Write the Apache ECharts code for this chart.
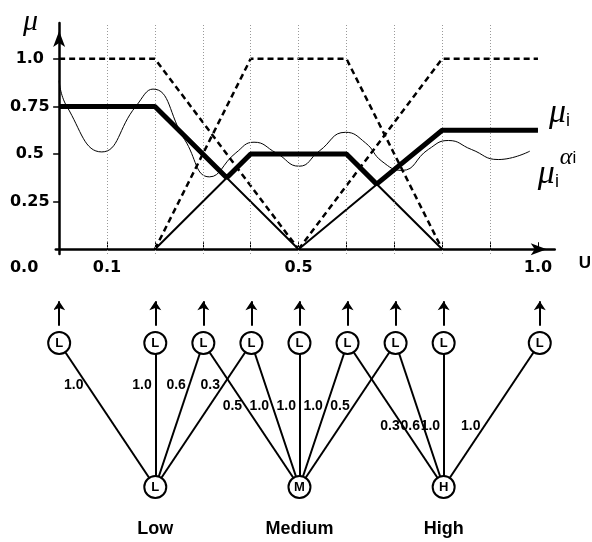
<!DOCTYPE html>
<html>
<head>
<meta charset="utf-8">
<script src="https://cdn.jsdelivr.net/npm/echarts@6/dist/echarts.min.js"></script>
<style>
html, body { margin: 0; padding: 0; background: #fff; }
#main { width: 592px; height: 542px; }
</style>
</head>
<body>
<div id="main"></div>
<script>
// axis marks
var uGridLines = [0.1, 0.2, 0.3, 0.4, 0.5, 0.6, 0.7, 0.8, 0.9];
var uTicks = [0.1, 0.2, 0.3, 0.4, 0.5, 0.6, 0.7, 0.8, 0.9, 1.0];
var uLabels = [0, 0.1, 0.5, 1.0];
var muLabels = [0.25, 0.5, 0.75, 1.0];

// fuzzy sets (dashed)
var lowSet = [[0, 1], [0.2, 1], [0.5, 0]];
var mediumSet = [[0.2, 0], [0.4, 1], [0.6, 1], [0.8, 0]];
var highSet = [[0.5, 0], [0.8, 1], [1.0, 1]];

// clipped sets (thin solid)
var lowCut = [[0, 0.75], [0.2, 0.75], [0.5, 0]];
var mediumCut = [[0.2, 0], [0.4, 0.5], [0.6, 0.5], [0.8, 0]];
var highCut = [[0.5, 0], [0.8, 0.625], [1.0, 0.625]];

// mu_i (thick)
var muI = [[0, 0.75], [0.2, 0.75], [0.35, 0.375], [0.4, 0.5], [0.6, 0.5], [0.663, 0.342], [0.8, 0.625], [1.0, 0.625]];

// mu_i^alpha_i (wavy)
var muAlpha = [[0, 0.885], [0.016, 0.75], [0.089, 0.511], [0.16, 0.75], [0.196, 0.841],
  [0.262, 0.576], [0.314, 0.38], [0.369, 0.506], [0.407, 0.562], [0.453, 0.506],
  [0.501, 0.436], [0.543, 0.515], [0.598, 0.614], [0.64, 0.558], [0.674, 0.462],
  [0.716, 0.414], [0.771, 0.524], [0.813, 0.571], [0.861, 0.524], [0.917, 0.471], [0.983, 0.515]];

// network
var topNodes = [0.0, 0.2, 0.3, 0.4, 0.5, 0.6, 0.7, 0.8, 1.0];
var termNames = ['Low', 'Medium', 'High'];
var termLetters = ['L', 'M', 'H'];
var termCenters = [0.2, 0.5, 0.8];
var edgeTerm = [0, 0, 0, 0, 1, 1, 1, 1, 1, 2, 2, 2, 2];
var edgeTop = [0.0, 0.2, 0.3, 0.4, 0.3, 0.4, 0.5, 0.6, 0.7, 0.6, 0.7, 0.8, 1.0];
var edgeWeight = [1.0, 1.0, 0.6, 0.3, 0.5, 1.0, 1.0, 1.0, 0.5, 0.3, 0.6, 1.0, 1.0];
var weightLevel = [0.71, 0.56, 0.42]; // where each term's weights sit along its edges

var axisFont = 'DejaVu Sans';
var textFont = 'Liberation Sans';

var edges = edgeTop.map(function (x, k) {
  return { coords: [[termCenters[edgeTerm[k]], 0], [x, 1]] };
});
var weightPoints = edgeTop.map(function (x, k) {
  var x0 = termCenters[edgeTerm[k]];
  var t = weightLevel[edgeTerm[k]];
  return { value: [x0 + (x - x0) * t, t], w: edgeWeight[k] };
});
var arrows = topNodes.map(function (x) {
  return { coords: [[x, 1.12], [x, 1.29]] };
});

var chart = echarts.init(document.getElementById('main'));

var thin = { color: '#000', width: 2 };
var dashed = { color: '#000', width: 2.5, type: [6, 4] };

chart.setOption({
  backgroundColor: '#fff',
  animation: false,
  grid: [
    { left: 55.8, right: 35.4, top: 23, bottom: 288 },
    { left: 55.8, right: 35.4, top: 285.4, height: 244.8 }
  ],
  xAxis: [{
    type: 'value', min: -0.007, max: 1.035,
    axisLine: { show: true, symbol: ['none', 'arrow'], symbolSize: [9, 16], symbolOffset: [0, -8],
      lineStyle: { color: '#000', width: 2.5 } },
    axisTick: { show: true, inside: true, length: 7, customValues: uTicks, lineStyle: { color: '#000', width: 1 } },
    axisLabel: {
      customValues: uLabels, margin: 6, color: '#000',
      fontFamily: axisFont, fontWeight: 'bold', fontSize: 16,
      formatter: function (v) {
        if (v === 0) return '{z|0.0}';
        return v === 1 ? '1.0' : String(v);
      },
      rich: { z: { padding: [0, 70, 0, 0], fontFamily: axisFont, fontWeight: 'bold', fontSize: 16, color: '#000' } }
    },
    splitLine: { show: false },
    name: 'U', nameLocation: 'end', nameGap: 24,
    nameTextStyle: { fontFamily: textFont, fontWeight: 'bold', fontSize: 17, color: '#000', verticalAlign: 'top', padding: [6, 0, 0, 0] }
  }, {
    type: 'value', gridIndex: 1, min: -0.007, max: 1.035, show: false
  }],
  yAxis: [{
    type: 'value', min: -0.025, max: 1.188,
    axisLine: { show: true, symbol: ['none', 'arrow'], symbolSize: [9, 16], symbolOffset: [0, -8],
      lineStyle: { color: '#000', width: 2.5 } },
    axisTick: { show: true, length: 6, customValues: muLabels, lineStyle: { color: '#000', width: 1.5 } },
    axisLabel: {
      customValues: muLabels, margin: 26, align: 'center', color: '#000',
      fontFamily: axisFont, fontWeight: 'bold', fontSize: 16,
      formatter: function (v) { return v === 1 ? '1.0' : String(v); }
    },
    splitLine: { show: false },
    name: 'μ', nameLocation: 'end', nameGap: -14,
    nameTextStyle: { fontFamily: 'Liberation Serif', fontStyle: 'italic', fontSize: 30, color: '#000',
      align: 'right', verticalAlign: 'bottom', padding: [0, 21, 0, 0] }
  }, {
    type: 'value', gridIndex: 1, min: -0.3, max: 1.4, show: false
  }],
  series: [
    {
      type: 'line', data: lowSet, symbol: 'none', lineStyle: dashed, z: 2,
      markLine: {
        silent: true, symbol: ['none', 'none'], label: { show: false },
        lineStyle: { color: '#999', width: 1, type: [1, 2] },
        data: uGridLines.map(function (v) { return { xAxis: v }; })
      }
    },
    { type: 'line', data: mediumSet, symbol: 'none', lineStyle: dashed, z: 2 },
    { type: 'line', data: highSet, symbol: 'none', lineStyle: dashed, z: 2 },
    { type: 'line', data: lowCut, symbol: 'none', lineStyle: thin, z: 3 },
    { type: 'line', data: mediumCut, symbol: 'none', lineStyle: thin, z: 3 },
    { type: 'line', data: highCut, symbol: 'none', lineStyle: thin, z: 3 },
    {
      type: 'line', data: muAlpha, symbol: 'none', smooth: true,
      lineStyle: { color: '#000', width: 1 }, z: 4,
      endLabel: {
        show: true, offset: [0, 22],
        formatter: '{p|}{a|α}{t|i}\n{m|μ}{s|i}',
        rich: {
          p: { width: 22, height: 6, lineHeight: 6 },
          a: { fontFamily: 'Liberation Serif', fontStyle: 'italic', fontSize: 24, color: '#000', verticalAlign: 'middle', lineHeight: 6 },
          t: { fontFamily: textFont, fontSize: 17, color: '#000', verticalAlign: 'middle', lineHeight: 6 },
          m: { fontFamily: 'Liberation Serif', fontStyle: 'italic', fontSize: 34, color: '#000', verticalAlign: 'bottom', lineHeight: 30 },
          s: { fontFamily: textFont, fontSize: 18, color: '#000', verticalAlign: 'bottom', lineHeight: 30 }
        }
      }
    },
    {
      type: 'line', data: muI, symbol: 'none',
      lineStyle: { color: '#000', width: 5 }, z: 5,
      endLabel: {
        show: true, offset: [3, -17],
        formatter: '{m|μ}{s|i}',
        rich: {
          m: { fontFamily: 'Liberation Serif', fontStyle: 'italic', fontSize: 34, color: '#000', verticalAlign: 'bottom' },
          s: { fontFamily: textFont, fontSize: 18, color: '#000', verticalAlign: 'bottom' }
        }
      }
    },
    // network
    {
      type: 'lines', coordinateSystem: 'cartesian2d', xAxisIndex: 1, yAxisIndex: 1,
      data: edges, lineStyle: { color: '#000', width: 2, opacity: 1 }, z: 2
    },
    {
      type: 'lines', coordinateSystem: 'cartesian2d', xAxisIndex: 1, yAxisIndex: 1,
      data: arrows, symbol: ['none', 'arrow'], symbolSize: 9,
      lineStyle: { color: '#000', width: 2, opacity: 1 }, z: 2
    },
    {
      type: 'scatter', xAxisIndex: 1, yAxisIndex: 1,
      data: topNodes.map(function (x) { return [x, 1]; }),
      symbolSize: 22, itemStyle: { color: '#fff', borderColor: '#000', borderWidth: 2, opacity: 1 },
      label: { show: true, position: 'inside', formatter: 'L', color: '#000', opacity: 1, fontFamily: textFont, fontWeight: 'bold', fontSize: 13 },
      z: 5
    },
    {
      type: 'scatter', xAxisIndex: 1, yAxisIndex: 1,
      data: termCenters.map(function (x, i) { return { value: [x, 0], letter: termLetters[i] }; }),
      symbolSize: 22, itemStyle: { color: '#fff', borderColor: '#000', borderWidth: 2, opacity: 1 },
      label: { show: true, position: 'inside', formatter: function (p) { return p.data.letter; },
        color: '#000', opacity: 1, fontFamily: textFont, fontWeight: 'bold', fontSize: 13 },
      z: 5
    },
    {
      type: 'scatter', xAxisIndex: 1, yAxisIndex: 1,
      data: termCenters.map(function (x, i) { return { value: [x, 0], term: termNames[i] }; }),
      symbolSize: 22, itemStyle: { color: 'rgba(0,0,0,0)', opacity: 1 },
      label: { show: true, position: 'bottom', distance: 22, formatter: function (p) { return p.data.term; },
        color: '#000', opacity: 1, fontFamily: textFont, fontWeight: 'bold', fontSize: 18 },
      z: 5
    },
    {
      type: 'scatter', xAxisIndex: 1, yAxisIndex: 1,
      data: weightPoints, symbolSize: 1, itemStyle: { color: 'rgba(0,0,0,0)', opacity: 1 },
      label: { show: true, position: 'left', distance: 3, formatter: function (p) { return p.data.w.toFixed(1); },
        color: '#000', opacity: 1, fontFamily: textFont, fontWeight: 'bold', fontSize: 14 },
      z: 6
    }
  ]
});
</script>
</body>
</html>
